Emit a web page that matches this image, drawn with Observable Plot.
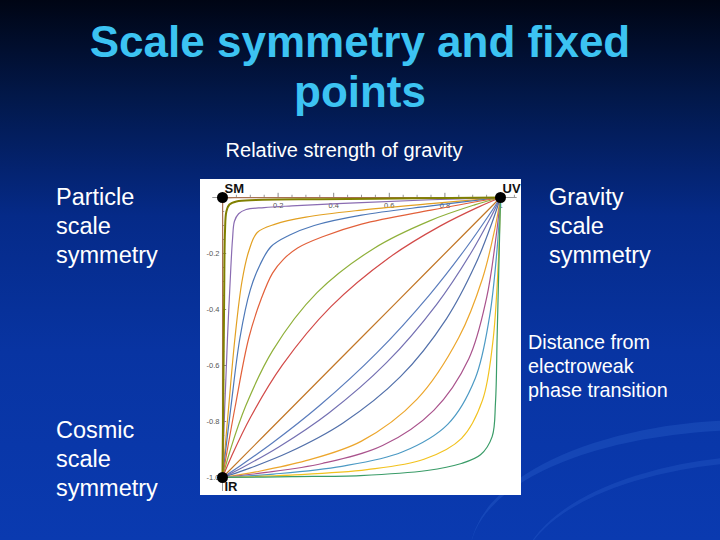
<!DOCTYPE html>
<html><head><meta charset="utf-8">
<script src="https://cdn.jsdelivr.net/npm/d3@7"></script>
<script src="https://cdn.jsdelivr.net/npm/@observablehq/plot@0.6"></script>
<style>
html,body{margin:0;padding:0;}
body{width:720px;height:540px;overflow:hidden;position:relative;font-family:"Liberation Sans",Arial,sans-serif;
background:linear-gradient(180deg,#000514 0%,#02184a 18%,#052a88 40%,#0834a2 65%,#0a3ab0 100%);}
.t{position:absolute;color:#fff;white-space:nowrap;}
.sw{position:absolute;border-radius:50%;}
#title{position:absolute;left:0;width:720px;top:17px;text-align:center;color:#3cc3f2;font-weight:bold;font-size:44px;line-height:50px;}
#sub{left:194px;width:300px;top:140px;text-align:center;font-size:20px;line-height:20px;}
.big{font-size:23.5px;line-height:29px;}
.mid{font-size:19.8px;line-height:24px;}
#chart{position:absolute;left:200px;top:179px;width:321px;height:316px;}
</style></head>
<body>
<div class="sw" style="left:470px;top:420px;width:560px;height:260px;border-top:10px solid rgba(80,140,240,0.18);"></div>
<div class="sw" style="left:520px;top:455px;width:520px;height:240px;border-top:6px solid rgba(90,150,250,0.14);"></div>
<div id="title">Scale symmetry and fixed<br>points</div>
<div class="t" id="sub">Relative strength of gravity</div>
<div class="t big" style="left:56px;top:183px;">Particle<br>scale<br>symmetry</div>
<div class="t big" style="left:56px;top:416px;">Cosmic<br>scale<br>symmetry</div>
<div class="t big" style="left:549px;top:183px;">Gravity<br>scale<br>symmetry</div>
<div class="t mid" style="left:528px;top:330px;">Distance from<br>electroweak<br>phase transition</div>
<div id="chart"></div>
<script>
// Flow trajectories from IR (0,-1) to UV (1,0): [x, y] points
const brownEdge = [[0,-1],[0.0003,-0.5],[0.0007,-0.1],[0.0017,-0.0093],[0.004,-0.004],[0.0093,-0.0017],[0.1,-0.0007],[0.5,-0.0003],[1,0]];
const olive = [[0,-1],[0.003,-0.7],[0.006,-0.35],[0.009,-0.12],[0.014,-0.05],[0.025,-0.025],[0.05,-0.014],[0.12,-0.009],[0.35,-0.006],[0.7,-0.003],[1,0]];
const purple = [[0,-1],[0.008,-0.75],[0.018,-0.5],[0.03,-0.25],[0.036,-0.15],[0.043,-0.085],[0.058,-0.058],[0.085,-0.043],[0.15,-0.036],[0.25,-0.03],[0.5,-0.018],[0.75,-0.008],[1,0]];
const gold = [[0,-1],[0.022,-0.75],[0.045,-0.5],[0.07,-0.3],[0.095,-0.19],[0.125,-0.125],[0.19,-0.095],[0.3,-0.07],[0.5,-0.045],[0.75,-0.022],[1,0]];
const blue1 = [[0,-1],[0.03,-0.75],[0.063,-0.5],[0.1,-0.33],[0.135,-0.24],[0.175,-0.175],[0.24,-0.135],[0.33,-0.1],[0.5,-0.063],[0.75,-0.03],[1,0]];
const red1 = [[0,-1],[0.045,-0.75],[0.095,-0.5],[0.14,-0.36],[0.18,-0.27],[0.22,-0.22],[0.27,-0.18],[0.36,-0.14],[0.5,-0.095],[0.75,-0.045],[1,0]];
const green1 = [[0,-1],[0.0264,-0.907],[0.0833,-0.745],[0.1809,-0.546],[0.34,-0.34],[0.546,-0.1809],[0.745,-0.0833],[0.907,-0.0264],[1,0]];
const red2 = [[0,-1],[0.0326,-0.924],[0.1014,-0.784],[0.2151,-0.599],[0.39,-0.39],[0.599,-0.2151],[0.784,-0.1014],[0.924,-0.0326],[1,0]];
const brown = [[0,-1],[0.25,-0.75],[0.5,-0.5],[0.75,-0.25],[1,0]];
const blue2 = [[0,-1],[0.0616,-0.9595],[0.1804,-0.876],[0.3483,-0.744],[0.555,-0.555],[0.744,-0.3483],[0.876,-0.1804],[0.9595,-0.0616],[1,0]];
const violet = [[0,-1],[0.0704,-0.965],[0.2025,-0.891],[0.3815,-0.7705],[0.59,-0.59],[0.7705,-0.3815],[0.891,-0.2025],[0.965,-0.0704],[1,0]];
const blue3 = [[0,-1],[0.0856,-0.971],[0.2388,-0.910],[0.4324,-0.806],[0.64,-0.64],[0.806,-0.4324],[0.910,-0.2388],[0.971,-0.0856],[1,0]];
const orange = [[0,-1],[0.12,-0.98],[0.3,-0.94],[0.5,-0.87],[0.7,-0.72],[0.85,-0.5],[0.935,-0.29],[0.98,-0.11],[1,0]];
const magenta = [[0,-1],[0.1429,-0.9837],[0.3585,-0.95],[0.5758,-0.886],[0.76,-0.76],[0.886,-0.5758],[0.95,-0.3585],[0.9837,-0.1429],[1,0]];
const teal = [[0,-1],[0.1833,-0.9878],[0.4293,-0.960],[0.6463,-0.909],[0.81,-0.81],[0.909,-0.6463],[0.960,-0.4293],[0.9878,-0.1833],[1,0]];
const yellow = [[0,-1],[0.2443,-0.9915],[0.5202,-0.972],[0.7247,-0.935],[0.86,-0.86],[0.935,-0.7247],[0.972,-0.5202],[0.9915,-0.2443],[1,0]];
const green2 = [[0,-1],[0.25,-0.997],[0.496,-0.993],[0.736,-0.975],[0.856,-0.951],[0.928,-0.919],[0.970,-0.854],[0.982,-0.731],[0.988,-0.493],[0.994,-0.25],[1,0]];

const curveNames = ["brownEdge","olive","purple","gold","blue1","red1","green1","red2","brown","blue2","violet","blue3","orange","magenta","teal","yellow","green2"];
const curveData = [brownEdge,olive,purple,gold,blue1,red1,green1,red2,brown,blue2,violet,blue3,orange,magenta,teal,yellow,green2];
const curveColors = ["#a87050","#8e9a1c","#8a6cb2","#e2a022","#4d78b8","#e2603a","#8fb03a","#d24a48","#c27626","#5a7cbc","#7470b2","#5270aa","#eca62c","#a9528c","#4c9ac4","#f2c21e","#3a9c68"];

const fixedNames = ["SM","UV","IR"];
const fixedX = [0,1,0];
const fixedY = [0,0,-1];

const xMajor = [0.2,0.4,0.6,0.8,1];
const xMajorLabels = ["0.2","0.4","0.6","0.8","1"];
const xMinor = [0.05,0.1,0.15,0.25,0.3,0.35,0.45,0.5,0.55,0.65,0.7,0.75,0.85,0.9,0.95,1.05];
const yMajor = [-0.2,-0.4,-0.6,-0.8,-1];
const yMajorLabels = ["-0.2","-0.4","-0.6","-0.8","-1.0"];
const yMinor = [-0.05,-0.1,-0.15,-0.25,-0.3,-0.35,-0.45,-0.5,-0.55,-0.65,-0.7,-0.75,-0.85,-0.9,-0.95];

const rows = [];
curveData.forEach((pts, i) => pts.forEach(([x, y]) => rows.push({curve: curveNames[i], x, y})));
const fixed = fixedNames.map((n, i) => ({name: n, x: fixedX[i], y: fixedY[i]}));

const chart = Plot.plot({
  width: 321, height: 316,
  marginLeft: 22, marginRight: 21, marginTop: 18, marginBottom: 18,
  x: {domain: [0, 1], axis: null},
  y: {domain: [-1, 0], axis: null},
  color: {domain: curveNames, range: curveColors},
  style: {background: "white", overflow: "visible", fontFamily: "Liberation Sans, Arial, sans-serif"},
  marks: [
    Plot.ruleY([0], {x1: -0.035, x2: 1.06, stroke: "#9a9a9a", strokeWidth: 1}),
    Plot.ruleX([0], {y1: 0, y2: -1.05, stroke: "#9a9a9a", strokeWidth: 1}),
    Plot.ruleX(xMajor, {x: d => d, y1: 0, y2: 0.015, stroke: "#888"}),
    Plot.ruleX(xMinor, {x: d => d, y1: 0, y2: 0.008, stroke: "#999"}),
    Plot.ruleY(yMajor, {y: d => d, x1: 0, x2: 0.015, stroke: "#888"}),
    Plot.ruleY(yMinor, {y: d => d, x1: 0, x2: 0.008, stroke: "#999"}),
    Plot.text(xMajor, {x: d => d, y: 0, text: (d, i) => xMajorLabels[i], dy: 8, fontSize: 7.5, fill: "#555"}),
    Plot.text(yMajor, {x: 0, y: d => d, text: (d, i) => yMajorLabels[i], dx: -3, textAnchor: "end", fontSize: 7.5, fill: "#555"}),
    Plot.line(rows.filter(r => r.curve !== "olive"), {x: "x", y: "y", z: "curve", stroke: "curve", strokeWidth: 1.2, curve: "catmull-rom"}),
    Plot.line(rows.filter(r => r.curve === "olive"), {x: "x", y: "y", z: "curve", stroke: "curve", strokeWidth: 2, curve: "catmull-rom"}),
    Plot.dot(fixed, {x: "x", y: "y", r: 5.5, fill: "black"}),
    Plot.text(fixed.filter(d => d.name !== "IR"), {x: "x", y: "y", text: "name", dx: 2, dy: -9, textAnchor: "start", fontSize: 13, fontWeight: "bold", fill: "#111"}),
    Plot.text(fixed.filter(d => d.name === "IR"), {x: "x", y: "y", text: "name", dx: 2, dy: 9, textAnchor: "start", fontSize: 13, fontWeight: "bold", fill: "#111"})
  ]
});
document.getElementById("chart").appendChild(chart);
</script>
</body></html>
